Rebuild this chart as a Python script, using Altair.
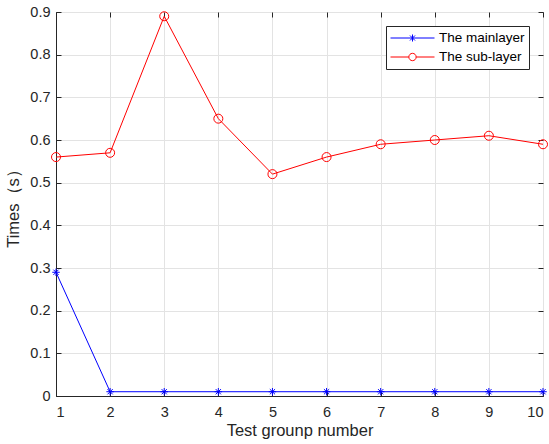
import altair as alt
import pandas as pd

groups = [1, 2, 3, 4, 5, 6, 7, 8, 9, 10]
main_layer = [0.29, 0.01, 0.01, 0.01, 0.01, 0.01, 0.01, 0.01, 0.01, 0.01]
sub_layer = [0.56, 0.57, 0.89, 0.65, 0.52, 0.56, 0.59, 0.60, 0.61, 0.59]
series_names = ["The mainlayer", "The sub-layer"]
series_colors = ["#0000ff", "#ff0000"]
x_ticks = [1, 2, 3, 4, 5, 6, 7, 8, 9, 10]
y_ticks = [0, 0.1, 0.2, 0.3, 0.4, 0.5, 0.6, 0.7, 0.8, 0.9]

df = pd.DataFrame({
    "group": groups * 2,
    "value": main_layer + sub_layer,
    "series": [series_names[0]] * len(groups) + [series_names[1]] * len(groups),
})

FONT = "Liberation Sans"
TXT = "#262626"
ASTERISK = "M-1,0L1,0M0,-1L0,1M-0.7,-0.7L0.7,0.7M-0.7,0.7L0.7,-0.7"
LEG_MAIN = "M-1,0H1M0,-0.16V0.16M-0.113,-0.113L0.113,0.113M-0.113,0.113L0.113,-0.113"
LEG_SUB = "M-1,0H-0.167M0.167,0H1M0.167,0A0.167,0.167,0,1,1,-0.167,0A0.167,0.167,0,1,1,0.167,0"

xscale = alt.Scale(domain=[1, 10], nice=False, zero=False)
yscale = alt.Scale(domain=[0, 0.9], nice=False)

def inward(orient):
    return alt.Axis(orient=orient, labels=False, domain=False, grid=False, ticks=True,
                    tickSize=5, tickColor=TXT, tickWidth=1, offset=-5, title=None,
                    values=x_ticks if orient in ("top", "bottom") else y_ticks)

base = alt.Chart(df)
main_df = base.transform_filter(alt.datum.series == series_names[0])
sub_df = base.transform_filter(alt.datum.series == series_names[1])

line_main = main_df.mark_line(strokeWidth=1, color=series_colors[0]).encode(
    x=alt.X("group:Q", scale=xscale,
            axis=alt.Axis(values=x_ticks, format="d", ticks=False, grid=True,
                          gridColor="#e3e3e3", domainColor=TXT, labelColor=TXT,
                          labelFont=FONT, labelFontSize=14.5, labelPadding=9,
                          title="Test grounp number", titleFont=FONT, titleFontSize=16.5,
                          titleFontWeight="normal", titleColor=TXT, titlePadding=4)),
    y=alt.Y("value:Q", scale=yscale,
            axis=alt.Axis(values=y_ticks, format=".1~f", ticks=False, grid=True,
                          gridColor="#e3e3e3", domainColor=TXT, labelColor=TXT,
                          labelFont=FONT, labelFontSize=14.5, labelPadding=6,
                          title="Times（s）", titleFont=FONT, titleFontSize=16.5,
                          titleFontWeight="normal", titleColor=TXT, titlePadding=8)),
)

line_sub = sub_df.mark_line(strokeWidth=1, color=series_colors[1]).encode(
    x=alt.X("group:Q", scale=xscale, axis=None),
    y=alt.Y("value:Q", scale=yscale, axis=None),
)

pts_main = main_df.mark_point(
    shape=ASTERISK, size=56, color=series_colors[0], strokeWidth=1, filled=False, opacity=1
).encode(
    x=alt.X("group:Q", scale=xscale, axis=inward("bottom")),
    y=alt.Y("value:Q", scale=yscale, axis=inward("left")),
)

pts_sub = sub_df.mark_point(
    shape="circle", size=81, color=series_colors[1], strokeWidth=1, filled=False, opacity=1
).encode(
    x=alt.X("group:Q", scale=xscale, axis=inward("top")),
    y=alt.Y("value:Q", scale=yscale, axis=inward("right")),
)

leg = alt.Legend(title=None, orient="top-right", offset=14, symbolSize=1936,
                 clipHeight=16, rowPadding=3, padding=4)
legend_layer = base.transform_calculate(hidden="datum.value + 100").mark_point(
    filled=False, opacity=1, clip=True
).encode(
    x=alt.X("group:Q", scale=xscale, axis=None),
    y=alt.Y("hidden:Q", scale=yscale, axis=None),
    stroke=alt.Stroke("series:N", scale=alt.Scale(domain=series_names, range=series_colors),
                      legend=leg),
    shape=alt.Shape("series:N", scale=alt.Scale(domain=series_names, range=[LEG_MAIN, LEG_SUB]),
                    legend=leg),
)

chart = alt.layer(line_main, line_sub, pts_main, pts_sub, legend_layer).resolve_axis(
    x="independent", y="independent"
).properties(
    width=487, height=384,
    autosize=alt.AutoSizeParams(type="none"),
    padding={"left": 56, "top": 12, "right": 6, "bottom": 48},
).configure_view(
    stroke=TXT, strokeWidth=1
).configure_legend(
    symbolStrokeWidth=1, labelFont=FONT, labelFontSize=13.5,
    labelColor="#000000", strokeColor=TXT, fillColor="white",
    labelOffset=4, cornerRadius=0, symbolFillColor="transparent",
)

chart.save("out.html", embed_options={"renderer": "svg", "actions": False})
